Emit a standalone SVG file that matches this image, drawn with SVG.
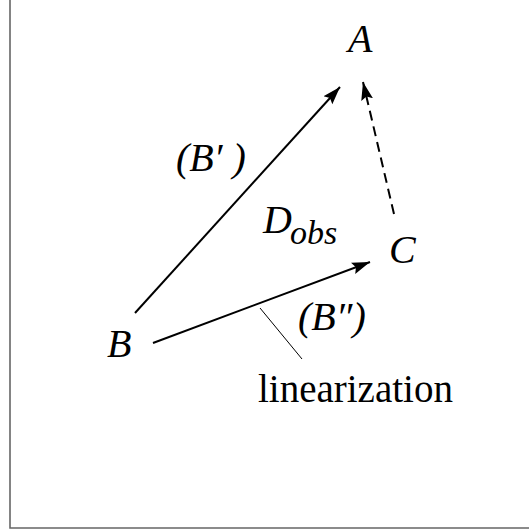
<svg xmlns="http://www.w3.org/2000/svg" width="529" height="530" viewBox="0 0 529 530">
<defs>
<marker id="ah" markerUnits="userSpaceOnUse" markerWidth="20" markerHeight="14" viewBox="0 0 20 14" refX="18" refY="7" orient="auto">
<path d="M0,1 L18,7 L0,13 L3,7 Z" fill="#000"/>
</marker>
<style>
.lbl{font-family:"Liberation Serif","Times New Roman",serif;font-style:italic;font-size:40px;fill:#000}
.plain{font-family:"Liberation Serif","Times New Roman",serif;font-size:39px;fill:#000}
.sub{font-size:34px}
.arr{stroke:#000;stroke-width:2;fill:none;marker-end:url(#ah)}
</style>
</defs>
<rect width="529" height="530" fill="#fff"/>
<path d="M10,0 V528 H529" fill="none" stroke="#666" stroke-width="1.6"/>
<g id="connectors">
<line class="arr" x1="135" y1="313" x2="340" y2="87"/>
<line class="arr" x1="153" y1="343" x2="370" y2="262"/>
<line class="arr" x1="394" y1="214" x2="363" y2="82" stroke-dasharray="10,6"/>
<line x1="260" y1="308" x2="302" y2="359" stroke="#000" stroke-width="1"/>
</g>
<g id="A"><text class="lbl" x="348" y="52">A</text></g>
<g id="B"><text class="lbl" x="107" y="357">B</text></g>
<g id="C"><text class="lbl" x="389" y="263">C</text></g>
<g id="Dobs"><text class="lbl" x="263" y="233">D<tspan class="sub" x="290" y="244">obs</tspan></text></g>
<g id="Bprime"><text class="lbl" x="176" y="171">(B′ )</text></g>
<g id="Bdprime"><text class="lbl" x="298" y="330">(B″)</text></g>
<g id="linearization"><text class="plain" x="258" y="402">linearization</text></g>
</svg>
